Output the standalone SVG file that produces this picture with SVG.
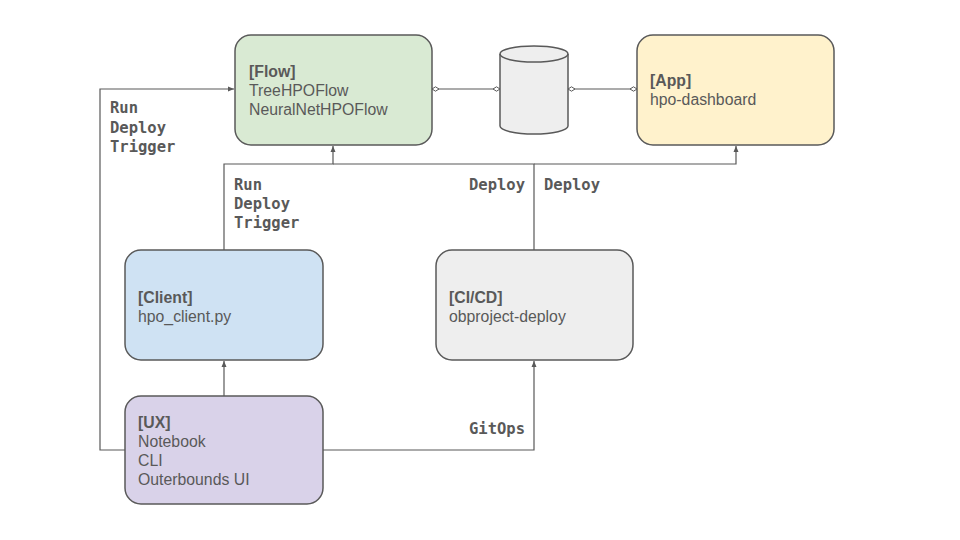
<svg xmlns="http://www.w3.org/2000/svg" width="960" height="540" viewBox="0 0 960 540">
<style>
.box{stroke:#595959;stroke-width:1.5}
.t{font-family:"Liberation Sans",Arial,sans-serif;font-size:15.8px;fill:#595959}
.b{font-weight:bold}
.l{font-family:"DejaVu Sans Mono","Liberation Mono",monospace;font-size:15.5px;font-weight:bold;fill:#595959}
.c{fill:none;stroke:#595959;stroke-width:1.2}
</style>
<defs>
<marker id="arr" viewBox="0 0 6 6" refX="6" refY="3" markerWidth="6" markerHeight="6" orient="auto" markerUnits="userSpaceOnUse">
<path d="M0,0.5 L6,3 L0,5.5 Z" fill="#595959"/>
</marker>
<marker id="dia" viewBox="0 0 8 6" refX="7.5" refY="3" markerWidth="8" markerHeight="6" orient="auto" markerUnits="userSpaceOnUse">
<path d="M0.5,3 L4,0.8 L7.5,3 L4,5.2 Z" fill="#fff" stroke="#595959" stroke-width="1"/>
</marker>
<marker id="dias" viewBox="0 0 8 6" refX="0.5" refY="3" markerWidth="8" markerHeight="6" orient="auto" markerUnits="userSpaceOnUse">
<path d="M0.5,3 L4,0.8 L7.5,3 L4,5.2 Z" fill="#fff" stroke="#595959" stroke-width="1"/>
</marker>
</defs>
<rect width="960" height="540" fill="#fff"/>
<g id="connectors">
<path class="c" d="M125,450 H100 V89 H234" marker-end="url(#arr)"/>
<path class="c" d="M224,396 V361" marker-end="url(#arr)"/>
<path class="c" d="M224,250 V164 H333 V146" marker-end="url(#arr)"/>
<path class="c" d="M534,250 V164 H333"/>
<path class="c" d="M534,164 H736 V146" marker-end="url(#arr)"/>
<path class="c" d="M323,450 H534 V361" marker-end="url(#arr)"/>
<path class="c" d="M432,89 H500" marker-start="url(#dias)" marker-end="url(#dia)"/>
<path class="c" d="M568,89 H637" marker-start="url(#dias)" marker-end="url(#dia)"/>
<text class="l" x="110" y="113">Run</text>
<text class="l" x="110" y="133">Deploy</text>
<text class="l" x="110" y="152">Trigger</text>
<text class="l" x="234" y="190">Run</text>
<text class="l" x="234" y="209">Deploy</text>
<text class="l" x="234" y="228">Trigger</text>
<text class="l" x="525" y="190" text-anchor="end">Deploy</text>
<text class="l" x="544" y="190">Deploy</text>
<text class="l" x="525" y="434" text-anchor="end">GitOps</text>
</g>
<g id="flow">
<rect class="box" x="235" y="35" width="197" height="110" rx="16" fill="#d9ead3"/>
<text class="t b" x="249" y="77">[Flow]</text>
<text class="t" x="249" y="96">TreeHPOFlow</text>
<text class="t" x="249" y="115">NeuralNetHPOFlow</text>
</g>
<g id="db">
<path class="box" d="M500,54 V126 A34,8 0 0 0 568,126 V54 A34,8 0 0 0 500,54 Z" fill="#eeeeee"/>
<path class="box" d="M500,54 A34,8 0 0 0 568,54" fill="none"/>
</g>
<g id="app">
<rect class="box" x="637" y="35" width="197" height="110" rx="16" fill="#fff2cc"/>
<text class="t b" x="650" y="86">[App]</text>
<text class="t" x="650" y="105">hpo-dashboard</text>
</g>
<g id="client">
<rect class="box" x="125" y="250" width="198" height="110" rx="16" fill="#cfe2f3"/>
<text class="t b" x="138" y="303">[Client]</text>
<text class="t" x="138" y="322">hpo_client.py</text>
</g>
<g id="cicd">
<rect class="box" x="436" y="250" width="197" height="110" rx="16" fill="#eeeeee"/>
<text class="t b" x="449" y="303">[CI/CD]</text>
<text class="t" x="449" y="322">obproject-deploy</text>
</g>
<g id="ux">
<rect class="box" x="125" y="396" width="198" height="108" rx="16" fill="#d9d2e9"/>
<text class="t b" x="138" y="428">[UX]</text>
<text class="t" x="138" y="447">Notebook</text>
<text class="t" x="138" y="466">CLI</text>
<text class="t" x="138" y="485">Outerbounds UI</text>
</g>
</svg>
